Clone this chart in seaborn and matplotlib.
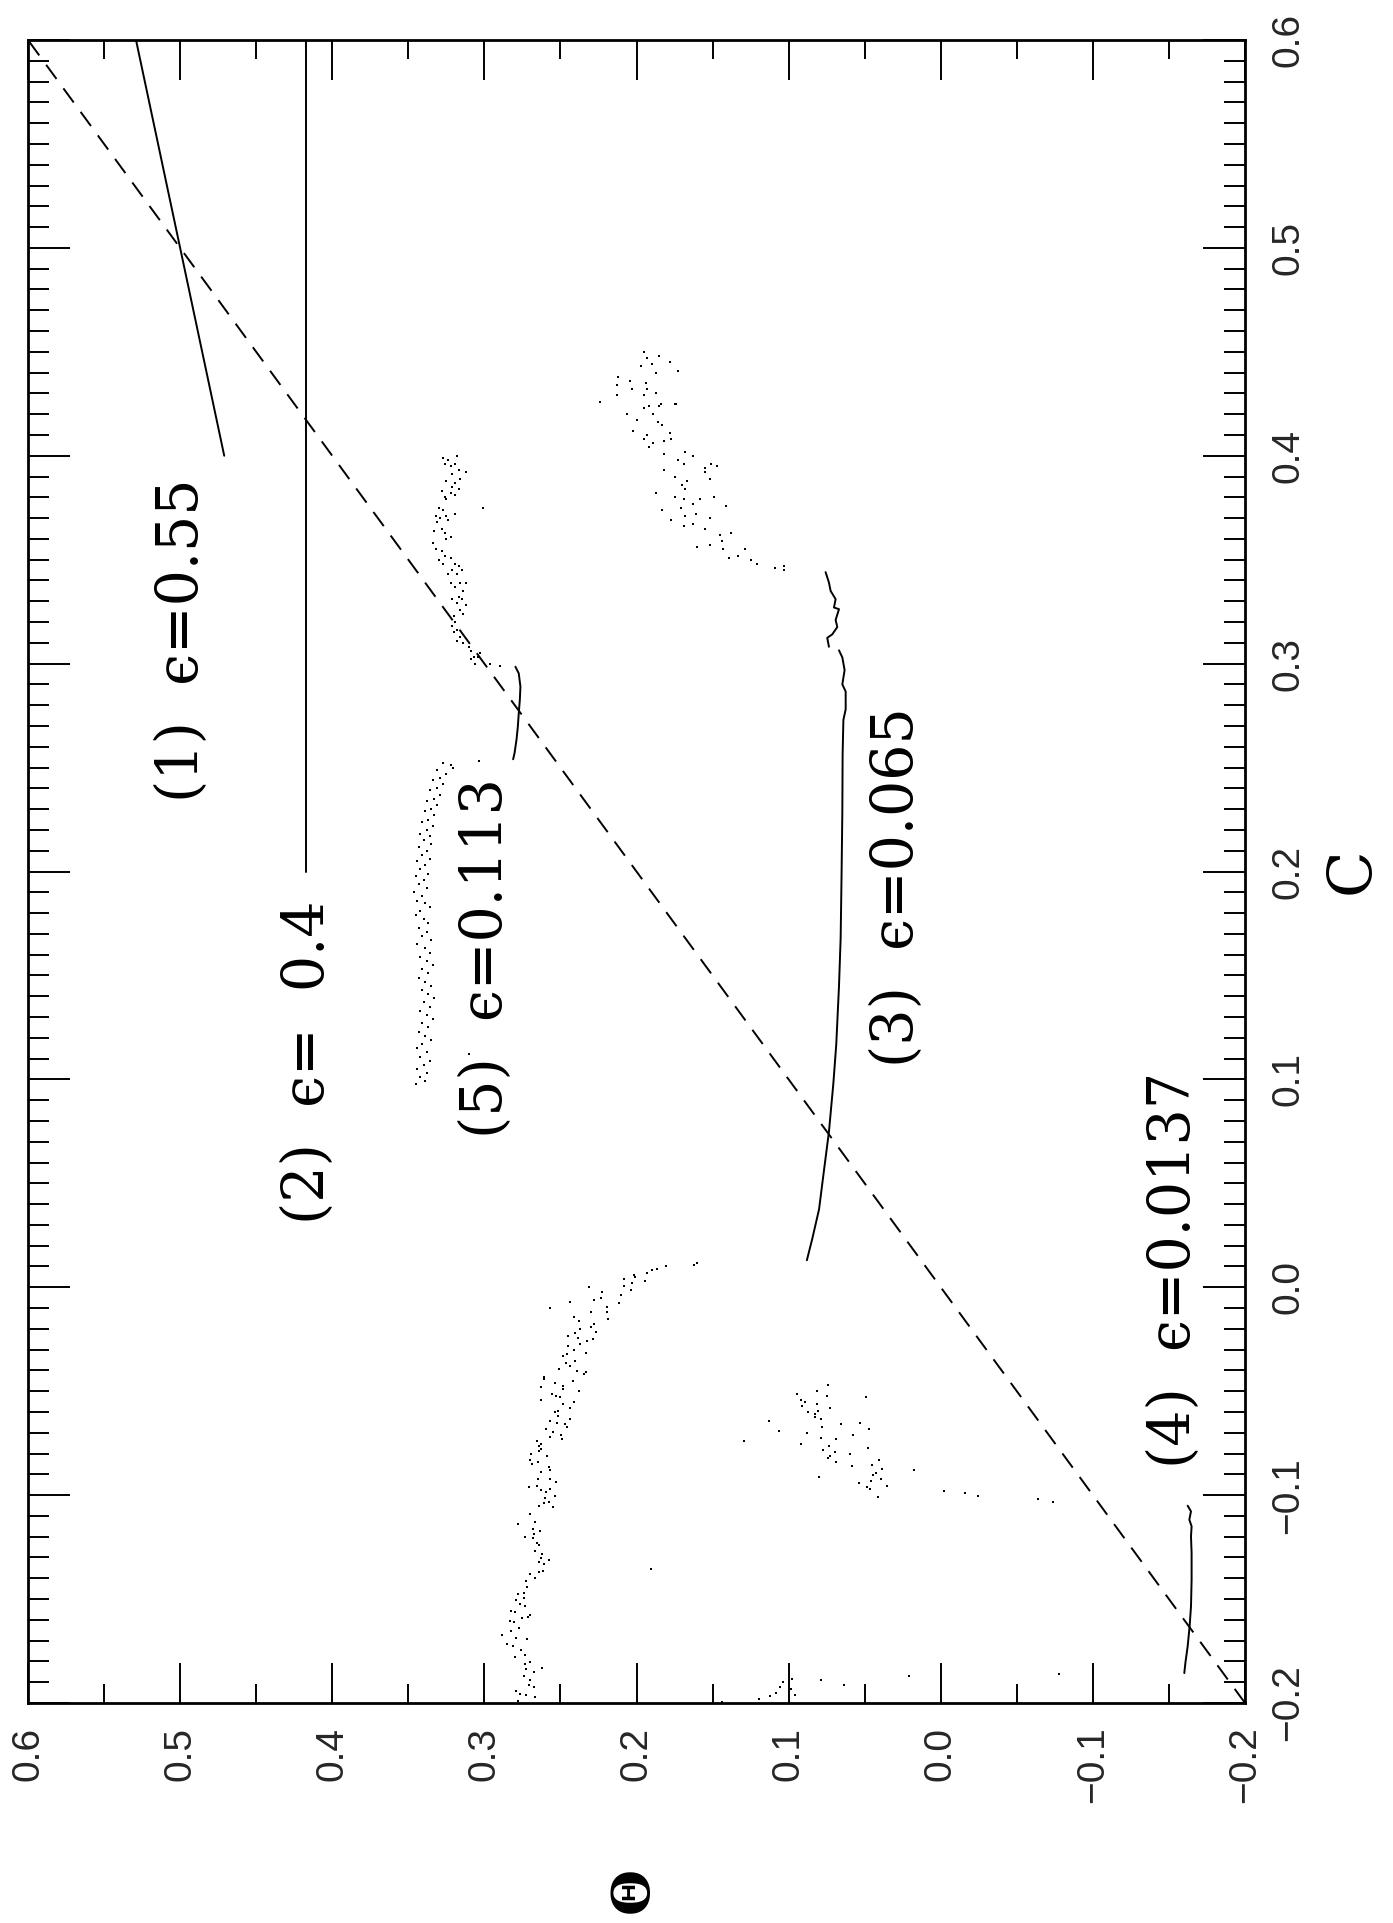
import numpy as np
import pandas as pd
import matplotlib
matplotlib.use("Agg")
import matplotlib.pyplot as plt
from matplotlib.ticker import MultipleLocator, FuncFormatter
import seaborn as sns

sns.set_theme(style="white")
plt.rcParams["font.family"] = ["Liberation Sans", "DejaVu Sans"]
plt.rcParams["axes.unicode_minus"] = True

# ---------------- data : (Theta, C) pairs ----------------
diag = [-0.2, 0.6]

line1 = [(0.529, 0.600), (0.471, 0.400)]                      # eps = 0.55
line2 = [(0.417, 0.600), (0.417, 0.200)]                      # eps = 0.4

line3 = [(0.088, 0.013), (0.0844, 0.0235), (0.080, 0.0375), (0.0768, 0.056),
         (0.0735, 0.0748), (0.0706, 0.098), (0.0687, 0.1167), (0.0669, 0.1447),
         (0.0658, 0.168), (0.0652, 0.1983), (0.0647, 0.2282), (0.0645, 0.2566),
         (0.064, 0.2729), (0.0625, 0.278), (0.0625, 0.2866), (0.0647, 0.290),
         (0.0632, 0.2969), (0.0647, 0.303), (0.0669, 0.3064)]
line3_tail = [(0.0735, 0.3081), (0.0746, 0.3124), (0.0713, 0.3141), (0.068, 0.3176),
              (0.0691, 0.321), (0.0669, 0.3262), (0.0702, 0.327), (0.0691, 0.331),
              (0.0724, 0.335), (0.0735, 0.339), (0.0757, 0.344)]

line4 = [(-0.1601, -0.1856), (-0.1608, -0.1808), (-0.1623, -0.1728), (-0.1636, -0.1631),
         (-0.1645, -0.1535), (-0.1649, -0.1407), (-0.1649, -0.1279), (-0.1645, -0.1199),
         (-0.1649, -0.115), (-0.1634, -0.1118), (-0.1645, -0.1078), (-0.1623, -0.1051)]

line5 = [(0.2811, 0.254), (0.2802, 0.2568), (0.2789, 0.2633), (0.278, 0.2697),
         (0.2774, 0.2761), (0.2767, 0.2825), (0.2763, 0.2889), (0.2774, 0.2953),
         (0.2796, 0.2985)]

s5_upper = [(0.327, 0.399), (0.324, 0.398), (0.318, 0.400), (0.326, 0.396), (0.322, 0.395),
            (0.319, 0.396), (0.317, 0.393), (0.312, 0.392), (0.321, 0.391), (0.316, 0.389),
            (0.325, 0.388), (0.319, 0.387), (0.321, 0.385), (0.317, 0.384), (0.328, 0.383),
            (0.326, 0.380), (0.322, 0.382), (0.325, 0.379), (0.319, 0.381), (0.330, 0.375),
            (0.327, 0.374), (0.332, 0.371), (0.329, 0.370), (0.331, 0.368), (0.325, 0.371),
            (0.324, 0.369), (0.319, 0.372), (0.328, 0.365), (0.326, 0.363), (0.322, 0.361),
            (0.325, 0.360), (0.333, 0.364), (0.334, 0.358), (0.332, 0.355), (0.328, 0.354),
            (0.326, 0.352), (0.322, 0.351), (0.330, 0.350), (0.327, 0.348), (0.319, 0.348),
            (0.317, 0.347), (0.324, 0.343), (0.321, 0.345), (0.315, 0.345), (0.318, 0.343),
            (0.322, 0.339), (0.316, 0.339), (0.312, 0.339), (0.319, 0.337), (0.314, 0.335),
            (0.317, 0.332), (0.315, 0.331), (0.321, 0.331), (0.318, 0.329), (0.312, 0.328),
            (0.316, 0.326), (0.314, 0.324), (0.320, 0.323), (0.319, 0.320), (0.321, 0.318),
            (0.318, 0.316), (0.320, 0.315), (0.316, 0.313), (0.318, 0.311), (0.314, 0.310),
            (0.310, 0.308), (0.309, 0.306), (0.307, 0.303), (0.309, 0.302), (0.304, 0.303),
            (0.306, 0.300), (0.303, 0.305), (0.296, 0.300), (0.290, 0.299), (0.301, 0.375),
            (0.3033, 0.2533), (0.3206, 0.2497)]

s5_lower = [(0.327, 0.252), (0.322, 0.251), (0.331, 0.249), (0.325, 0.247), (0.329, 0.245),
            (0.334, 0.244), (0.327, 0.242), (0.331, 0.240), (0.336, 0.239), (0.329, 0.237),
            (0.333, 0.235), (0.338, 0.234), (0.331, 0.232), (0.335, 0.230), (0.339, 0.229),
            (0.333, 0.227), (0.337, 0.225), (0.341, 0.224), (0.334, 0.222), (0.338, 0.220),
            (0.342, 0.218), (0.336, 0.217), (0.340, 0.215), (0.335, 0.213), (0.343, 0.212),
            (0.338, 0.210), (0.341, 0.208), (0.336, 0.206), (0.344, 0.205), (0.339, 0.203),
            (0.342, 0.201), (0.337, 0.199), (0.345, 0.198), (0.340, 0.196), (0.343, 0.194),
            (0.338, 0.192), (0.346, 0.190), (0.341, 0.188), (0.344, 0.186), (0.339, 0.185),
            (0.336, 0.183), (0.342, 0.181), (0.345, 0.179), (0.340, 0.177), (0.337, 0.175),
            (0.343, 0.173), (0.338, 0.171), (0.341, 0.169), (0.335, 0.167), (0.344, 0.165),
            (0.339, 0.163), (0.336, 0.161), (0.342, 0.159), (0.338, 0.157), (0.334, 0.155),
            (0.341, 0.153), (0.337, 0.151), (0.343, 0.149), (0.339, 0.147), (0.335, 0.145),
            (0.341, 0.143), (0.337, 0.141), (0.333, 0.139), (0.340, 0.137), (0.336, 0.135),
            (0.342, 0.133), (0.338, 0.131), (0.334, 0.129), (0.341, 0.127), (0.337, 0.125),
            (0.343, 0.123), (0.339, 0.121), (0.335, 0.119), (0.341, 0.117), (0.344, 0.115),
            (0.338, 0.113), (0.342, 0.111), (0.336, 0.109), (0.340, 0.107), (0.344, 0.105),
            (0.338, 0.103), (0.342, 0.101), (0.339, 0.099), (0.345, 0.098), (0.310, 0.112)]

s3 = [(0.195, 0.450), (0.193, 0.447), (0.185, 0.448), (0.178, 0.445), (0.173, 0.441),
      (0.197, 0.443), (0.190, 0.444), (0.187, 0.440), (0.212, 0.438), (0.213, 0.434),
      (0.204, 0.436), (0.194, 0.435), (0.203, 0.432), (0.193, 0.432), (0.213, 0.429),
      (0.195, 0.429), (0.187, 0.430), (0.184, 0.425), (0.175, 0.425),
      (0.224, 0.426), (0.206, 0.420), (0.202, 0.412), (0.200, 0.417), (0.195, 0.423),
      (0.192, 0.424), (0.189, 0.420), (0.185, 0.424), (0.174, 0.425), (0.186, 0.416),
      (0.183, 0.415), (0.195, 0.408), (0.193, 0.410), (0.189, 0.406), (0.182, 0.407),
      (0.178, 0.411), (0.177, 0.408), (0.192, 0.404), (0.182, 0.401), (0.173, 0.398),
      (0.168, 0.402), (0.163, 0.400), (0.169, 0.396), (0.155, 0.394), (0.151, 0.396),
      (0.147, 0.395), (0.152, 0.389), (0.155, 0.392), (0.182, 0.393), (0.175, 0.390),
      (0.187, 0.382), (0.170, 0.386), (0.168, 0.384), (0.167, 0.388), (0.175, 0.380),
      (0.169, 0.379), (0.163, 0.377), (0.158, 0.379), (0.149, 0.380), (0.183, 0.374),
      (0.171, 0.375), (0.177, 0.369), (0.168, 0.371), (0.161, 0.372), (0.152, 0.370),
      (0.169, 0.366), (0.163, 0.367), (0.155, 0.365), (0.141, 0.376), (0.145, 0.362),
      (0.138, 0.363), (0.144, 0.359), (0.160, 0.356), (0.152, 0.357), (0.143, 0.355),
      (0.139, 0.351), (0.133, 0.352), (0.129, 0.355), (0.125, 0.350), (0.121, 0.348),
      (0.109, 0.346), (0.103, 0.347), (0.103, 0.345)]

s4_arc = [(0.162, 0.0108), (0.160, 0.0119), (0.1809, 0.010), (0.1864, 0.0089), (0.1897, 0.0081),
          (0.193, 0.0068), (0.1945, 0.0028), (0.2017, 0.006), (0.2011, 0.0049), (0.2028, 0.002),
          (0.2035, -0.0012), (0.2079, 0.0039), (0.2083, 0.0007), (0.2105, -0.0036), (0.2116, -0.0077),
          (0.2193, -0.0093), (0.2193, -0.0117), (0.2186, -0.0153), (0.2226, -0.0025), (0.2232, -0.0052),
          (0.2313, 0.0000), (0.228, -0.006), (0.2438, -0.0073), (0.257, -0.0101), (0.2302, -0.0121),
          (0.2412, -0.0141), (0.2375, -0.0162), (0.2372, -0.0202), (0.2403, -0.0221), (0.2296, -0.0192),
          (0.2278, -0.0176), (0.2269, -0.0213), (0.2451, -0.0234), (0.2383, -0.0245), (0.2324, -0.0258),
          (0.2287, -0.025), (0.2372, -0.0274), (0.2451, -0.0285), (0.241, -0.0301), (0.2484, -0.033),
          (0.2456, -0.0323), (0.2331, -0.0314), (0.2401, -0.0354), (0.2465, -0.0365), (0.2438, -0.0381),
          (0.251, -0.0392), (0.2394, -0.0402), (0.2344, -0.0418), (0.2329, -0.041), (0.261, -0.0434),
          (0.2605, -0.044), (0.242, -0.0453), (0.2533, -0.0461), (0.2484, -0.0473), (0.2484, -0.049),
          (0.2629, -0.0482), (0.2557, -0.0514), (0.25, -0.053), (0.2528, -0.0521), (0.2379, -0.0501),
          (0.2631, -0.0541), (0.2484, -0.0562), (0.2434, -0.0583), (0.2408, -0.0554), (0.2539, -0.0602),
          (0.2513, -0.0594), (0.2517, -0.0617), (0.257, -0.0642), (0.2438, -0.0634), (0.2524, -0.0654),
          (0.2473, -0.066), (0.2458, -0.0671), (0.2596, -0.0683), (0.2548, -0.0694), (0.2495, -0.071),
          (0.2566, -0.0721), (0.2489, -0.0732), (0.2653, -0.0742), (0.2625, -0.0753), (0.264, -0.0766),
          (0.2631, -0.0779), (0.2693, -0.0801), (0.2642, -0.0787), (0.2587, -0.0814), (0.2697, -0.083),
          (0.2686, -0.0851), (0.2647, -0.0841), (0.2574, -0.0865), (0.257, -0.0881), (0.2629, -0.0891),
          (0.2649, -0.0923), (0.2566, -0.0923), (0.253, -0.0939), (0.2704, -0.0962), (0.2653, -0.0955),
          (0.2625, -0.0974), (0.257, -0.0971), (0.2592, -0.0987), (0.2603, -0.1014), (0.2533, -0.1003),
          (0.2642, -0.1051), (0.2609, -0.1038), (0.2552, -0.1059), (0.2576, -0.1034), (0.2697, -0.1091),
          (0.2669, -0.1127), (0.2682, -0.1164), (0.2776, -0.1141), (0.2636, -0.1173), (0.2675, -0.1186),
          (0.2679, -0.1207), (0.2734, -0.1202), (0.2653, -0.1228), (0.2642, -0.1239), (0.2664, -0.1271),
          (0.262, -0.1282), (0.2627, -0.1303), (0.2642, -0.1322), (0.2576, -0.1314), (0.2609, -0.1332),
          (0.2697, -0.138), (0.2614, -0.1364), (0.2642, -0.1372), (0.2664, -0.1399), (0.2726, -0.1415),
          (0.2719, -0.1443), (0.2741, -0.1471), (0.2778, -0.1475), (0.2794, -0.1503), (0.2741, -0.1495),
          (0.2765, -0.1524), (0.2798, -0.156), (0.2822, -0.1556), (0.273, -0.1532), (0.2701, -0.1576),
          (0.2712, -0.1584), (0.2754, -0.1592), (0.2829, -0.1604), (0.2802, -0.1611), (0.2772, -0.1637),
          (0.2822, -0.1656), (0.2883, -0.1673), (0.2853, -0.1714), (0.2811, -0.1728), (0.2719, -0.1693),
          (0.2789, -0.1688), (0.2756, -0.1744), (0.28, -0.1779), (0.273, -0.1768), (0.2734, -0.1811),
          (0.2697, -0.1805), (0.2726, -0.1837), (0.2671, -0.1853), (0.262, -0.1832), (0.2741, -0.1872),
          (0.2701, -0.1888), (0.2706, -0.1912), (0.2675, -0.1924), (0.2791, -0.194), (0.2763, -0.1956),
          (0.2728, -0.1962), (0.2664, -0.1972), (0.278, -0.1992)]

s4_cluster = [(0.0947, -0.0513), (0.0921, -0.0541), (0.0894, -0.0554), (0.0914, -0.057), (0.0872, -0.0602),
              (0.0826, -0.0609), (0.0815, -0.0562), (0.0811, -0.0501), (0.0741, -0.047), (0.0745, -0.0522),
              (0.0807, -0.0594), (0.0785, -0.0633), (0.0726, -0.0582), (0.0829, -0.0622), (0.0489, -0.053),
              (0.0877, -0.0699), (0.0783, -0.0673), (0.1127, -0.0643), (0.1063, -0.0691), (0.1294, -0.0742),
              (0.0921, -0.0753), (0.0785, -0.0723), (0.0688, -0.0731), (0.0655, -0.0659), (0.0528, -0.0651),
              (0.0469, -0.0683), (0.0574, -0.0713), (0.0734, -0.0763), (0.0772, -0.0782), (0.0695, -0.0793),
              (0.0728, -0.0814), (0.0741, -0.0822), (0.0688, -0.0841), (0.0596, -0.0801), (0.0478, -0.0771),
              (0.0583, -0.0861), (0.0454, -0.0853), (0.0405, -0.0833), (0.0383, -0.0873), (0.0425, -0.0893),
              (0.0447, -0.0905), (0.0392, -0.0923), (0.0456, -0.0933), (0.0355, -0.0954), (0.0537, -0.0941),
              (0.0482, -0.0963), (0.0465, -0.0971), (0.0414, -0.1011), (0.0798, -0.0913), (0.0179, -0.0881),
              (-0.0022, -0.0979), (-0.0158, -0.0992), (-0.0246, -0.1002), (-0.0636, -0.1019),
              (-0.0735, -0.1033), (0.1905, -0.1353)]

s4_bottom = [(0.1436, -0.1993), (0.1195, -0.1981), (0.1123, -0.1968), (0.1085, -0.1952), (0.1057, -0.1924),
             (0.1035, -0.1901), (0.0976, -0.1883), (0.0982, -0.1933), (0.0958, -0.196), (0.0789, -0.1891),
             (0.0633, -0.1912), (0.021, -0.1872), (-0.0779, -0.186)]

labels = ["(1)  \u03f5=0.55", "(2)  \u03f5=  0.4", "(3)  \u03f5=0.065",
          "(4)  \u03f5=0.0137", "(5)  \u03f5=0.113"]
label_theta = [0.499, 0.416, 0.029, -0.153, 0.299]
label_c = [0.389, 0.186, 0.279, -0.087, 0.245]
label_anchor = ["top", "top", "top", "bottom", "top"]

# ---------------- figure ----------------
W, H = 1393, 1923
fig = plt.figure(figsize=(W / 100, H / 100), dpi=100)
ax = fig.add_axes([28 / W, 1 - 1703 / H, (1245 - 28) / W, (1703 - 40) / H])

def df_of(pairs):
    a = np.array(pairs)
    return pd.DataFrame({"theta": a[:, 0], "C": a[:, 1]})

line_kw = dict(color="black", linewidth=1.4, sort=False, estimator=None, legend=False, ax=ax)
sns.lineplot(x=diag, y=diag, linestyle=(0, (9, 6)), color="black", linewidth=1.4,
             sort=False, estimator=None, legend=False, ax=ax)
for seg in (line1, line2, line3, line3_tail, line4, line5):
    d = df_of(seg)
    sns.lineplot(data=d, x="theta", y="C", **line_kw)

pts = pd.concat([df_of(p) for p in (s5_upper, s5_lower, s3, s4_arc, s4_cluster, s4_bottom)])
sns.scatterplot(data=pts, x="theta", y="C", marker="s", s=4.5, color="black",
                linewidth=0, legend=False, ax=ax)

for txt, th, c, an in zip(labels, label_theta, label_c, label_anchor):
    ax.text(th, c, txt, rotation=90, ha="center", va=an, fontsize=41,
            family=["DejaVu Serif"], color="black")

ax.set_xlim(0.6, -0.2)
ax.set_ylim(-0.2, 0.6)
ax.set_xlabel("")
ax.set_ylabel("")
ax.xaxis.set_major_locator(MultipleLocator(0.1))
ax.xaxis.set_minor_locator(MultipleLocator(0.05))
ax.yaxis.set_major_locator(MultipleLocator(0.1))
ax.yaxis.set_minor_locator(MultipleLocator(0.01))
fmt = FuncFormatter(lambda v, p: ("%.1f" % v).replace("-0.0", "0.0").replace("-", "\u2212"))
ax.xaxis.set_major_formatter(fmt)
ax.yaxis.set_major_formatter(fmt)
ax.tick_params(which="both", direction="in", top=True, bottom=True, left=True, right=True,
               labelbottom=True, labeltop=False, labelleft=False, labelright=True,
               color="black", width=1.4)
ax.tick_params(axis="x", which="major", length=29, pad=17, labelsize=28, labelrotation=90)
ax.tick_params(axis="x", which="minor", length=14)
ax.tick_params(axis="y", which="major", length=30, pad=18, labelsize=28, labelrotation=90)
ax.tick_params(axis="y", which="minor", length=15)
for lab in ax.get_yticklabels():
    lab.set_verticalalignment("center")
for sp in ax.spines.values():
    sp.set_visible(True)
    sp.set_color("black")
    sp.set_linewidth(2.0)
ax.grid(False)
ax.set_facecolor("white")

fig.text(1352 / W, 1 - 871 / H, "C", rotation=90, ha="center", va="center",
         fontsize=44, family=["DejaVu Serif"], color="black")
fig.text(633 / W, 1 - 1890 / H, "\u0398", rotation=90, ha="center", va="center",
         fontsize=38, fontweight="bold", family=["DejaVu Serif"], color="black")

fig.savefig("out.png", dpi=100, facecolor="white")
